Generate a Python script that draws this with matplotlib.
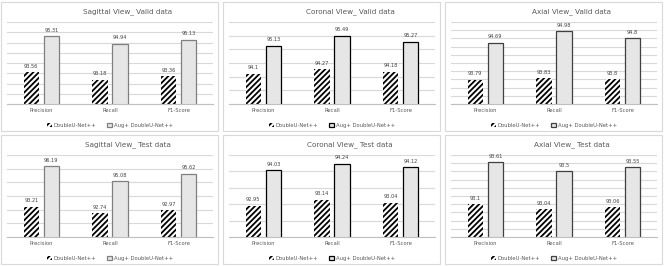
import matplotlib
matplotlib.use("Agg")
import matplotlib.pyplot as plt
from matplotlib.patches import Rectangle
import numpy as np

# data
metrics = ['Precision', 'Recall', 'F1-Score']
series_names = ['DoubleU-Net++', 'Aug+ DoubleU-Net++']

titles = ['Sagittal View_ Valid data', 'Coronal View_ Valid data', 'Axial View_ Valid data',
          'Sagittal View_ Test data', 'Coronal View_ Test data', 'Axial View_ Test data']

base_vals = [[93.56, 93.18, 93.36],
             [94.10, 94.27, 94.18],
             [93.79, 93.83, 93.80],
             [93.21, 92.74, 92.97],
             [92.95, 93.14, 93.04],
             [93.10, 93.04, 93.06]]

aug_vals = [[95.31, 94.94, 95.13],
            [95.13, 95.49, 95.27],
            [94.69, 94.98, 94.80],
            [96.19, 95.08, 95.62],
            [94.03, 94.24, 94.12],
            [93.61, 93.50, 93.55]]

# y axis ranges (min, max, step) like excel picked them
y_ranges = [(92, 96, 0.5), (93, 96, 0.5), (93.2, 95.2, 0.2),
            (91, 97, 1), (92, 94.5, 0.5), (92.7, 93.7, 0.1)]

W, H = 664, 266
plt.rcParams['hatch.linewidth'] = 1.3
fig = plt.figure(figsize=(W / 100, H / 100), dpi=100)

edge_cols = ['#7f7f7f', '#000000', '#404040', '#7f7f7f', '#000000', '#404040']

x = np.arange(len(metrics))
bw = 0.226
off = 0.146

for i in range(6):
    row, col = divmod(i, 3)
    px0 = 222 * col
    py0 = 133 * row
    # chart border
    fig.patches.append(Rectangle((px0 / W + 1 / W, 1 - (py0 + 131) / H), 217 / W, 129 / H,
                                 transform=fig.transFigure, fill=False,
                                 edgecolor='#d9d9d9', linewidth=0.8))
    ax = fig.add_axes([(px0 + 7) / W, 1 - (py0 + 104) / H, 206 / W, 82 / H])
    lo, hi, st = y_ranges[i]
    b1 = ax.bar(x - off, base_vals[i], bw, color='white', edgecolor='black',
                linewidth=0, hatch='//////', label=series_names[0])
    b2 = ax.bar(x + off, aug_vals[i], bw, color='#e6e6e6', edgecolor=edge_cols[i],
                linewidth=0.9, label=series_names[1])
    for bars, vals in ((b1, base_vals[i]), (b2, aug_vals[i])):
        for r, v in zip(bars, vals):
            ax.annotate('%g' % v, (r.get_x() + r.get_width() / 2, v),
                        xytext=(0, 2.5), textcoords='offset points',
                        ha='center', va='bottom', fontsize=3.6, color='#404040')
    ax.set_ylim(lo, hi)
    ax.set_xlim(-0.5, 2.5)
    ax.set_yticks(np.arange(lo, hi + st / 2, st))
    ax.yaxis.grid(True, color='#d9d9d9', linewidth=0.8)
    ax.set_axisbelow(True)
    ax.tick_params(axis='y', left=False, labelleft=False)
    ax.tick_params(axis='x', length=0, pad=3, labelsize=3.8, labelcolor='#595959')
    ax.set_xticks(x)
    ax.set_xticklabels(metrics)
    for s in ['top', 'right', 'left']:
        ax.spines[s].set_visible(False)
    ax.spines['bottom'].set_color('#bfbfbf')
    ax.spines['bottom'].set_linewidth(0.8)
    fig.text((px0 + 128) / W, 1 - (py0 + 12) / H, titles[i], ha='center', va='center',
             fontsize=5.2, color='#595959')
    ax.legend(loc='center', bbox_to_anchor=(0.5, -0.26), ncol=2, frameon=False,
              fontsize=3.8, handlelength=0.9, handleheight=0.9, handletextpad=0.4,
              columnspacing=2.0, labelcolor='#595959')

fig.savefig('out.png', dpi=100)
